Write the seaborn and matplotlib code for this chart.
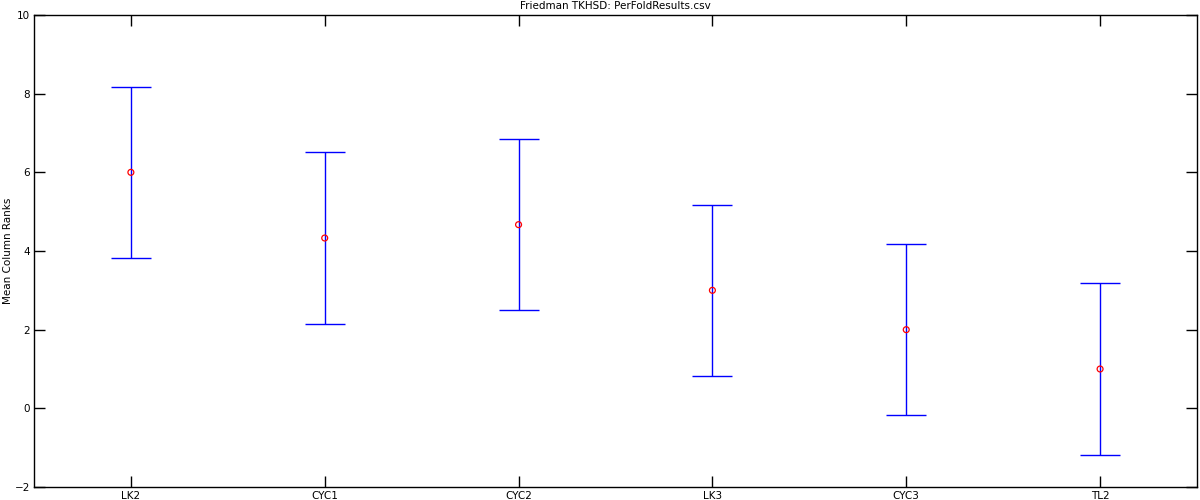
"""Friedman TKHSD mean column ranks with confidence intervals."""

import matplotlib
matplotlib.use("Agg")
import matplotlib.pyplot as plt
import seaborn as sns
import numpy as np

methods = ["LK2", "CYC1", "CYC2", "LK3", "CYC3", "TL2"]
mean_ranks = [6.0, 4.33, 4.67, 3.0, 2.0, 1.0]
half_widths = [2.18, 2.18, 2.18, 2.18, 2.18, 2.18]

sns.set_style("ticks")
plt.rcParams["font.family"] = ["DejaVu Sans"]
plt.rcParams["text.color"] = "black"
plt.rcParams["axes.labelcolor"] = "black"

fig = plt.figure(figsize=(12, 5), dpi=100)
ax = fig.add_axes([0.0283, 0.026, 0.9692, 0.944])

x = np.arange(1, len(methods) + 1)
ax.errorbar(x, mean_ranks, yerr=half_widths, fmt="none", ecolor="blue",
            elinewidth=1.0, capsize=14.5, capthick=1.0, zorder=2)
sns.scatterplot(x=x, y=mean_ranks, ax=ax, marker="o", s=18,
                facecolor="none", edgecolor="red", linewidth=0.9, zorder=3)

ax.set_xlim(0.5, 6.5)
ax.set_ylim(-2, 10)
ax.set_xticks(x)
ax.set_xticklabels(methods)
ax.set_yticks(np.arange(-2, 11, 2))
ax.tick_params(direction="in", length=8, width=1, top=True, right=True,
               labelsize=7.5, pad=3, colors="black")
for s in ax.spines.values():
    s.set_linewidth(1.0)
    s.set_color("black")
ax.set_ylabel("Mean Column Ranks", fontsize=7.5, labelpad=1, color="black")
ax.set_title("Friedman TKHSD: PerFoldResults.csv", fontsize=7.5, pad=4,
             color="black")

fig.savefig("out.png", dpi=100)
plt.close(fig)
